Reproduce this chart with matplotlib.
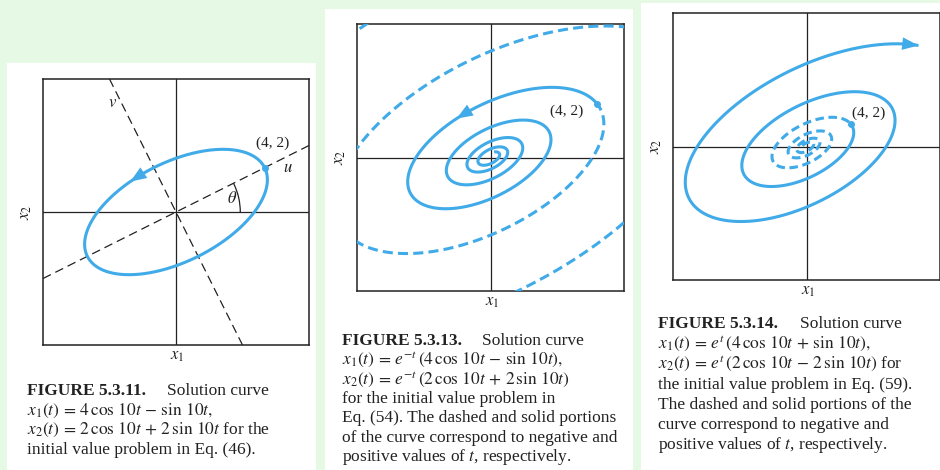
import numpy as np
import matplotlib.pyplot as plt
from matplotlib.patches import Rectangle, Arc

W, H = 940, 470
BG = "#e5f9e5"
BLUE = "#40abe8"
INK = "#222222"

plt.rcParams["font.family"] = ["Liberation Serif", "DejaVu Serif"]
plt.rcParams["mathtext.fontset"] = "stix"

# solution curves: x1 = e^(r t)(a cos 10t + b sin 10t), x2 = e^(r t)(c cos 10t + d sin 10t)
OMEGA = 10
GROWTH = [0.0, -1.0, 1.0]
X1_COEF = [(4, -1), (4, -1), (4, 1)]
X2_COEF = [(2, 2), (2, 2), (2, -2)]
AX_LIM = [6, 5, 12]
T_SOLID = [(0, 0.2 * np.pi), (0, 2.6), (0, 1.206)]
T_DASHED = [None, (-1.6, 0), (-2.1, 0)]
T_ARROW = [0.185, 0.17, 1.206]
START = (4, 2)
START_LABEL = ["(4, 2)", "(4, 2)", "(4, 2)"]
START_LABEL_POS = [(4.35, 3.1), (2.85, 1.75), (5.6, 3.0)]

FIG_NUM = ["FIGURE 5.3.11.", "FIGURE 5.3.13.", "FIGURE 5.3.14."]
CAPTIONS = [
    [r"$x_1(t)\,=\,4\,\cos\,10t\,-\,\sin\,10t,$",
     r"$x_2(t)\,=\,2\,\cos\,10t\,+\,2\,\sin\,10t$ for the",
     "initial value problem in Eq. (46)."],
    [r"$x_1(t)\,=\,e^{-t}\,(4\,\cos\,10t\,-\,\sin\,10t),$",
     r"$x_2(t)\,=\,e^{-t}\,(2\,\cos\,10t\,+\,2\,\sin\,10t)$",
     "for the initial value problem in",
     "Eq. (54). The dashed and solid portions",
     "of the curve correspond to negative and",
     r"positive values of $t$, respectively."],
    [r"$x_1(t)\,=\,e^{t}\,(4\,\cos\,10t\,+\,\sin\,10t),$",
     r"$x_2(t)\,=\,e^{t}\,(2\,\cos\,10t\,-\,2\,\sin\,10t)$ for",
     "the initial value problem in Eq. (59).",
     "The dashed and solid portions of the",
     "curve correspond to negative and",
     r"positive values of $t$, respectively."],
]

# layout in pixels: white card (x0, y0, x1, y1), axes box (left, top, size)
CARDS = [(7, 63, 316, 470), (325, 9, 633, 470), (641, 3, 940, 470)]
BOXES = [(43, 79, 266), (357, 24, 267), (673, 13, 267)]
CAP_X = [27, 342, 658]
CAP_X2 = [167, 482, 800]
CAP_Y = [395, 345, 328]
CAP_STEP = [19.5, 19.3, 20.2]
DASHES = [None, (3.3, 1.7), (2.8, 1.5)]


def curve(i, t):
    g = np.exp(GROWTH[i] * t)
    c, s = np.cos(OMEGA * t), np.sin(OMEGA * t)
    a, b = X1_COEF[i]
    d, e = X2_COEF[i]
    return g * (a * c + b * s), g * (d * c + e * s)


fig = plt.figure(figsize=(W / 100, H / 100), dpi=100)
fig.patch.set_facecolor(BG)

for i in range(3):
    x0, y0, x1, y1 = CARDS[i]
    fig.patches.append(Rectangle((x0 / W, 1 - y1 / H), (x1 - x0) / W, (y1 - y0) / H,
                                 transform=fig.transFigure, facecolor="white",
                                 edgecolor="none", zorder=-5))

    left, top, size = BOXES[i]
    ax = fig.add_axes([left / W, 1 - (top + size) / H, size / W, size / H])
    ax.set_zorder(1)
    L = AX_LIM[i]
    ax.set_xlim(-L, L)
    ax.set_ylim(-L, L)
    ax.set_xticks([])
    ax.set_yticks([])
    for sp in ax.spines.values():
        sp.set_color(INK)
        sp.set_linewidth(1.1)
    ax.axhline(0, color=INK, lw=0.9, zorder=1)
    ax.axvline(0, color=INK, lw=0.9, zorder=1)

    t = np.linspace(*T_SOLID[i], 2000)
    xs, ys = curve(i, t)
    ax.plot(xs, ys, color=BLUE, lw=2.2, solid_capstyle="butt", zorder=3)
    if T_DASHED[i] is not None:
        td = np.linspace(*T_DASHED[i], 3000)
        xd, yd = curve(i, td)
        ax.plot(xd, yd, color=BLUE, lw=2.2, dashes=DASHES[i], zorder=3)

    ta = T_ARROW[i]
    ax.annotate("", xy=curve(i, ta), xytext=curve(i, ta - 0.01),
                arrowprops=dict(arrowstyle="-|>,head_length=0.9,head_width=0.35",
                                color=BLUE, lw=0, mutation_scale=13,
                                shrinkA=0, shrinkB=0), zorder=4)
    ax.plot(*START, "o", ms=4, color=BLUE, zorder=4)
    ax.text(*START_LABEL_POS[i], START_LABEL[i], fontsize=11, color=INK,
            ha="center", va="center")

    ax.text(0.505, -0.012, r"$x_1$", transform=ax.transAxes, fontsize=12,
            color=INK, ha="center", va="top")
    ax.text(-0.035, 0.5, r"$x_2$", transform=ax.transAxes, fontsize=12,
            color=INK, ha="right", va="center", rotation=90)

    if i == 0:
        # principal axes of the ellipse
        A = np.array([X1_COEF[0], X2_COEF[0]], dtype=float)
        vals, vecs = np.linalg.eigh(A @ A.T)
        u = vecs[:, np.argmax(vals)]
        if u[0] < 0:
            u = -u
        theta = np.degrees(np.arctan2(u[1], u[0]))
        ax.axline((0, 0), (u[0], u[1]), color=INK, lw=0.9, dashes=(7, 4), zorder=2)
        ax.axline((0, 0), (-u[1], u[0]), color=INK, lw=0.9, dashes=(7, 4), zorder=2)
        ax.add_patch(Arc((0, 0), 5.8, 5.8, theta1=0, theta2=theta, color=INK, lw=0.9))
        ax.text(2.55, 0.6, r"$\theta$", fontsize=12, color=INK, ha="center", va="center")
        ax.text(5.05, 2.0, r"$u$", fontsize=12, color=INK, ha="center", va="center")
        ax.text(-2.85, 4.9, r"$v$", fontsize=12, color=INK, ha="center", va="center")

    # caption
    y = CAP_Y[i]
    fig.text(CAP_X[i] / W, 1 - y / H, FIG_NUM[i], fontsize=12.5, fontweight="bold",
             color=INK, va="baseline")
    fig.text(CAP_X2[i] / W, 1 - y / H, "Solution curve", fontsize=12.5,
             color=INK, va="baseline")
    for k, line in enumerate(CAPTIONS[i]):
        yy = y + (k + 1) * CAP_STEP[i]
        fig.text(CAP_X[i] / W, 1 - yy / H, line, fontsize=12.5, color=INK,
                 va="baseline")

fig.savefig("out.png", dpi=100, facecolor=BG)
